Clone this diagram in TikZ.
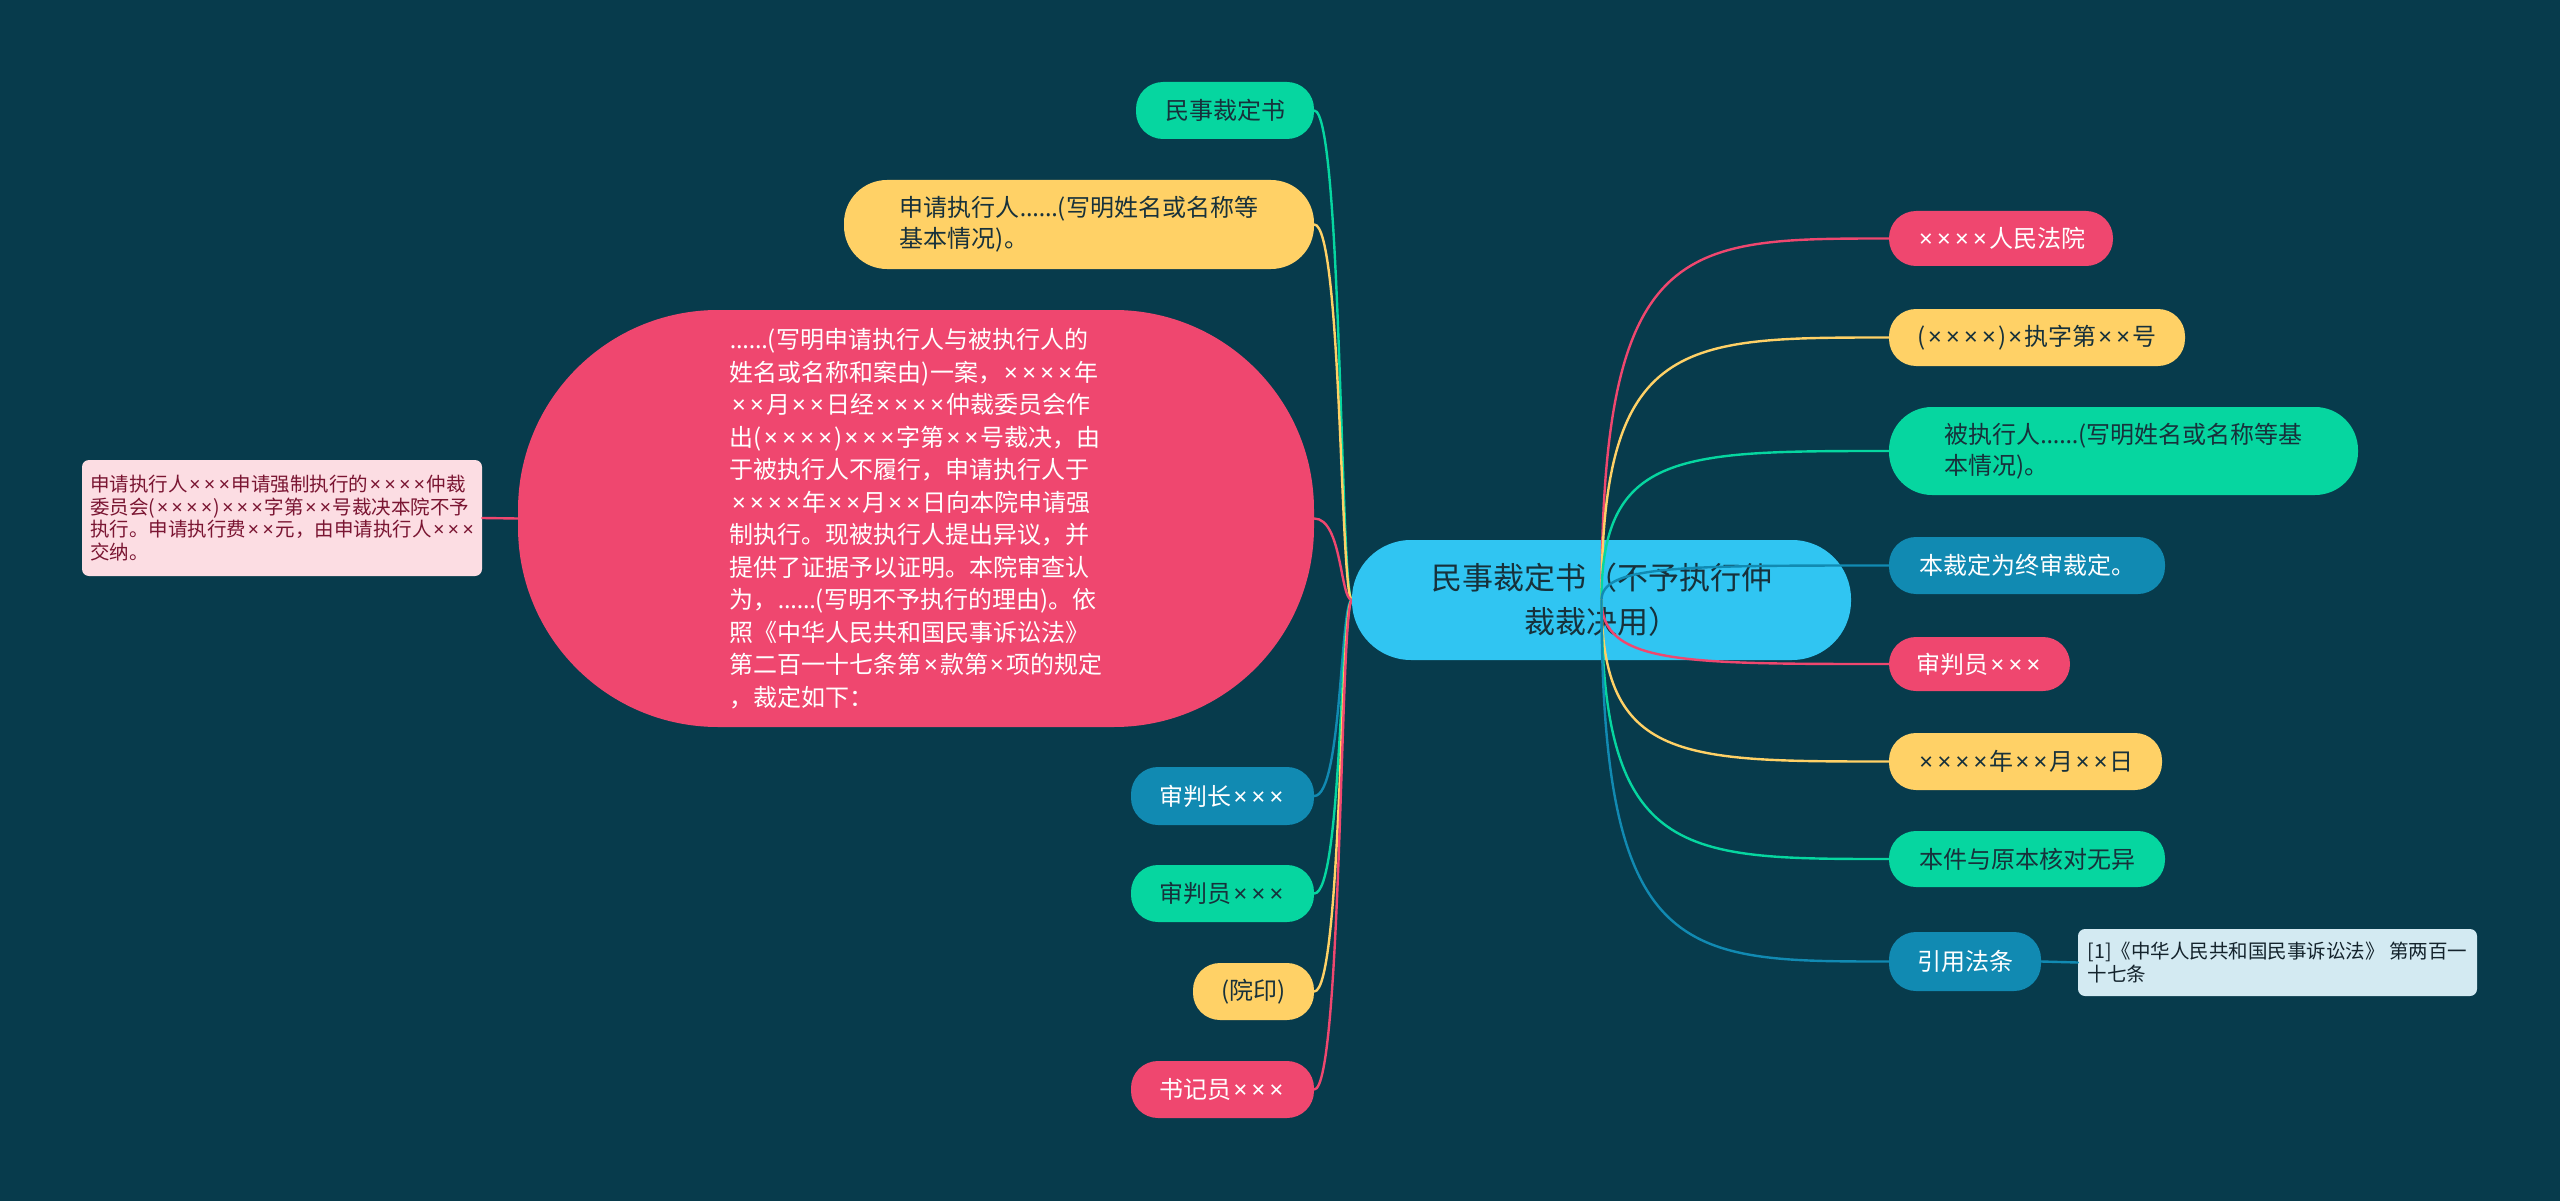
\documentclass[tikz,border=0pt]{standalone}
\usepackage{fontspec}
\usetikzlibrary{calc}
\setmainfont{Noto Sans CJK SC}
\newfontfamily\latinfont{Noto Sans}
\newcommand\myell{{\latinfont ……}}
\newcommand\mx{{\latinfont\hspace{0.09em}×\hspace{0.09em}}}
\definecolor{bg}{HTML}{073B4C}
\definecolor{cpink}{HTML}{EF476F}
\definecolor{cyellow}{HTML}{FFD166}
\definecolor{cgreen}{HTML}{06D6A0}
\definecolor{cblue}{HTML}{118AB2}
\definecolor{ccenter}{HTML}{30C5F2}
\definecolor{darktext}{HTML}{17313B}
\definecolor{notepink}{HTML}{FCDDE3}
\definecolor{notepinktext}{HTML}{7A1532}
\definecolor{noteblue}{HTML}{D3EAF2}
\definecolor{noteblueText}{HTML}{14232C}
\tikzset{
  pill/.style={rectangle, rounded corners=#1, inner sep=0pt, align=center},
  pill/.default=27pt,
  fmain/.style={font=\fontsize{24}{31}\selectfont},
  fbig/.style={font=\fontsize{24}{32.5}\selectfont},
  fcenter/.style={font=\fontsize{31}{44}\selectfont},
  fnote/.style={font=\fontsize{19.5}{22.5}\selectfont},
  conn/.style={line width=2.4pt, line cap=round},
  notebox/.style={rectangle, rounded corners=7pt, inner sep=0pt, align=left},
}
\begin{document}
\begin{tikzpicture}[x=1pt,y=-1pt]
\fill[bg] (0,0) rectangle (2560,1201);
\useasboundingbox (0,0) rectangle (2560,1201);

% left side nodes
\node[pill, fill=cgreen, text=darktext, fmain, minimum width=178pt, minimum height=57pt] (L1) at (1225,110.5) {民事裁定书};
\node[pill=43pt, fill=cyellow, text=darktext, fmain, align=left, minimum width=470pt, minimum height=89pt] (L2) at (1079,224.5) {申请执行人\myell(写明姓名或名称等\\基本情况)。};
\node[pill=200pt, fill=cpink, text=white, fbig, align=left, minimum width=796pt, minimum height=417pt] (L3) at (916,518.5) {\myell(写明申请执行人与被执行人的\\姓名或名称和案由)一案，\mx\mx\mx\mx 年\\\mx\mx 月\mx\mx 日经\mx\mx\mx\mx 仲裁委员会作\\出(\mx\mx\mx\mx)\mx\mx\mx 字第\mx\mx 号裁决，由\\于被执行人不履行，申请执行人于\\\mx\mx\mx\mx 年\mx\mx 月\mx\mx 日向本院申请强\\制执行。现被执行人提出异议，并\\提供了证据予以证明。本院审查认\\为，\myell(写明不予执行的理由)。依\\照《中华人民共和国民事诉讼法》\\第二百一十七条第\mx 款第\mx 项的规定\\，裁定如下：};
\node[pill, fill=cblue, text=white, fmain, minimum width=183pt, minimum height=58pt] (L4) at (1222.5,796) {审判长\mx\mx\mx};
\node[pill, fill=cgreen, text=darktext, fmain, minimum width=183pt, minimum height=57pt] (L5) at (1222.5,893.5) {审判员\mx\mx\mx};
\node[pill, fill=cyellow, text=darktext, fmain, minimum width=121pt, minimum height=57pt] (L6) at (1253.5,991.5) {(院印)};
\node[pill, fill=cpink, text=white, fmain, minimum width=183pt, minimum height=57pt] (L7) at (1222.5,1089.5) {书记员\mx\mx\mx};
\node[notebox, fill=notepink, text=notepinktext, fnote, minimum width=400pt, minimum height=116pt] (LN) at (282,518) {申请执行人\mx\mx\mx 申请强制执行的\mx\mx\mx\mx 仲裁\\委员会(\mx\mx\mx\mx)\mx\mx\mx 字第\mx\mx 号裁决本院不予\\执行。申请执行费\mx\mx 元，由申请执行人\mx\mx\mx\\交纳。};

% central node
\coordinate (CW) at (1352,600);
\foreach \n/\c in {L1/cgreen, L2/cyellow, L3/cpink, L4/cblue, L5/cgreen, L6/cyellow, L7/cpink}{
  \draw[conn, \c] (\n.east) .. controls ($(\n.east)+(28,0)$) and (1340,600) .. (CW);
}
\draw[conn, cpink] (L3.west) -- (LN.east);
\node[pill=59pt, fill=ccenter, text=darktext, fcenter, minimum width=499pt, minimum height=120pt] (C) at (1601.5,600) {民事裁定书（不予执行仲\\裁裁决用）};

% right side nodes
\node[pill, fill=cpink, text=white, fmain, minimum width=224pt, minimum height=55pt] (R1) at (2001,238.5) {\mx\mx\mx\mx 人民法院};
\node[pill, fill=cyellow, text=darktext, fmain, minimum width=296pt, minimum height=57pt] (R2) at (2037,337.5) {(\mx\mx\mx\mx)\mx 执字第\mx\mx 号};
\node[pill=43pt, fill=cgreen, text=darktext, fmain, align=left, minimum width=469pt, minimum height=88pt] (R3) at (2123.5,451) {被执行人\myell(写明姓名或名称等基\\本情况)。};
\node[pill, fill=cblue, text=white, fmain, minimum width=276pt, minimum height=57pt] (R4) at (2027,565.5) {本裁定为终审裁定。};
\node[pill, fill=cpink, text=white, fmain, minimum width=181pt, minimum height=54pt] (R5) at (1979.5,664) {审判员\mx\mx\mx};
\node[pill, fill=cyellow, text=darktext, fmain, minimum width=273pt, minimum height=57pt] (R6) at (2025.5,761.5) {\mx\mx\mx\mx 年\mx\mx 月\mx\mx 日};
\node[pill, fill=cgreen, text=darktext, fmain, minimum width=276pt, minimum height=56pt] (R7) at (2027,859) {本件与原本核对无异};
\node[pill, fill=cblue, text=white, fmain, minimum width=152pt, minimum height=59pt] (R8) at (1965,961.5) {引用法条};
\node[notebox, fill=noteblue, text=noteblueText, fnote, minimum width=399pt, minimum height=67pt] (RN) at (2277.5,962.5) {[1]《中华人民共和国民事诉讼法》 第两百一\\十七条};
\draw[conn, cblue] (R8.east) -- (RN.west);

% right connectors (drawn over central node)
\foreach \n/\c in {R1/cpink, R2/cyellow, R3/cgreen, R4/cblue, R5/cpink, R6/cyellow, R7/cgreen, R8/cblue}{
  \draw[conn, \c] (C.center) .. controls (C.center |- \n.west) and ($(C.center |- \n.west)+(80,0)$) .. (\n.west);
}
\end{tikzpicture}
\end{document}
